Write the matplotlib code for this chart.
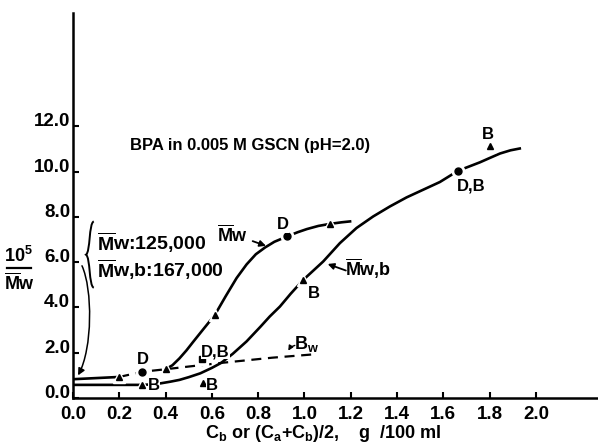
"""
Sedimentation data chart: 10^5/Mw vs concentration for BPA in GSCN
"""
import matplotlib
matplotlib.use('Agg')
import matplotlib.pyplot as plt
from matplotlib.path import Path
from matplotlib.patches import FancyArrowPatch, PathPatch

plt.rcParams['font.family'] = ['Liberation Sans', 'DejaVu Sans']
plt.rcParams['font.weight'] = 'bold'
plt.rcParams['axes.labelweight'] = 'bold'
plt.rcParams['mathtext.fontset'] = 'custom'
plt.rcParams['mathtext.rm'] = 'Liberation Sans:bold'
plt.rcParams['mathtext.bf'] = 'Liberation Sans:bold'
plt.rcParams['mathtext.it'] = 'Liberation Sans:bold'

# Mw curve (upper)
mw_x_start = [0.0, 0.1, 0.2]
mw_y_start = [0.83, 0.88, 0.93]
mw_x = [0.40, 0.43, 0.46, 0.49, 0.52, 0.56, 0.613, 0.66, 0.707, 0.75, 0.79, 0.83,
        0.87, 0.926, 0.97, 1.01, 1.06, 1.11, 1.16, 1.197]
mw_y = [1.27, 1.45, 1.75, 2.10, 2.49, 3.00, 3.67, 4.50, 5.30, 5.90, 6.35, 6.65,
        6.90, 7.14, 7.32, 7.46, 7.60, 7.69, 7.76, 7.80]

# Mw,b curve (lower)
mwb_x = [0.0, 0.15, 0.30, 0.34, 0.38, 0.42, 0.46, 0.50, 0.55, 0.60, 0.64, 0.69,
         0.75, 0.81, 0.85, 0.894, 0.94, 0.995, 1.081, 1.153, 1.225, 1.297, 1.369,
         1.441, 1.513, 1.585, 1.664, 1.71, 1.758, 1.80, 1.845, 1.89, 1.93]
mwb_y = [0.58, 0.58, 0.58, 0.60, 0.65, 0.72, 0.80, 0.92, 1.09, 1.33, 1.55, 1.95,
         2.50, 3.15, 3.60, 4.04, 4.60, 5.22, 6.03, 6.84, 7.51, 8.02, 8.46,
         8.86, 9.20, 9.54, 10.04, 10.22, 10.41, 10.60, 10.80, 10.94, 11.02]

# Bw dashed line
bw_x = [0.2, 0.3, 0.4, 0.5, 0.64, 0.86, 1.03]
bw_y = [0.93, 1.16, 1.27, 1.39, 1.55, 1.78, 1.92]

# data points
circle_x = [0.30, 0.926, 1.663]
circle_y = [1.16, 7.14, 10.02]
square_x = [0.556]
square_y = [1.71]
tri_x = [0.20, 0.40, 0.613, 1.11, 0.30, 0.563, 0.995, 1.80]
tri_y = [0.93, 1.27, 3.67, 7.69, 0.57, 0.68, 5.22, 11.12]

x_ticks = [0.0, 0.2, 0.4, 0.6, 0.8, 1.0, 1.2, 1.4, 1.6, 1.8, 2.0]
y_ticks = [0.0, 2.0, 4.0, 6.0, 8.0, 10.0, 12.0]

fig = plt.figure(figsize=(5.98, 4.46), dpi=100)
ax = fig.add_axes([0.122, 0.1076, 0.878, 0.863])

lw = 1.9
ax.plot(mw_x_start, mw_y_start, color='black', linewidth=lw, solid_capstyle='butt')
ax.plot(mw_x, mw_y, color='black', linewidth=lw)
ax.plot(mwb_x, mwb_y, color='black', linewidth=lw)
ax.plot(bw_x, bw_y, color='black', linewidth=1.6, dashes=(4.5, 3))

# white halo behind each marker, then the black marker
halo = dict(color='white', linestyle='none', zorder=4)
mk = dict(color='black', linestyle='none', zorder=5)
ax.plot(circle_x, circle_y, marker='o', markersize=9, **halo)
ax.plot(square_x, square_y, marker='s', markersize=8, **halo)
ax.plot(tri_x, tri_y, marker='^', markersize=9, **halo)
ax.plot(circle_x, circle_y, marker='o', markersize=5, **mk)
ax.plot(square_x, square_y, marker='s', markersize=4, **mk)
ax.plot(tri_x, tri_y, marker='^', markersize=4.5, **mk)

# point labels
lab = dict(fontsize=12, fontweight='bold', ha='center', va='center',
           bbox=dict(facecolor='white', edgecolor='none', pad=0.3), zorder=6)
ax.text(0.30, 1.68, 'D', **lab)
ax.text(0.35, 0.57, 'B', **lab)
ax.text(0.615, 2.05, 'D,B', **lab)
ax.text(0.60, 0.57, 'B', **lab)
ax.text(0.905, 7.65, 'D', **lab)
ax.text(1.04, 4.63, 'B', **lab)
ax.text(1.722, 9.35, 'D,B', **lab)
ax.text(1.794, 11.64, 'B', **lab)

# curve labels
ax.text(0.69, 7.17, r'$\overline{\mathbf{M}}$w', fontsize=13, ha='center', va='center')
ax.annotate('', xy=(0.845, 6.68), xytext=(0.765, 6.97),
            arrowprops=dict(arrowstyle='-|>', color='black', lw=1.3, mutation_scale=9))
ax.text(1.275, 5.72, r'$\overline{\mathbf{M}}$w,b', fontsize=13, ha='center', va='center')
ax.annotate('', xy=(1.089, 5.96), xytext=(1.19, 5.59),
            arrowprops=dict(arrowstyle='-|>', color='black', lw=1.3, mutation_scale=9))
ax.text(1.01, 2.38, r'B$_{\mathbf{w}}$', fontsize=13, ha='center', va='center')
ax.annotate('', xy=(0.925, 1.98), xytext=(0.97, 2.35),
            arrowprops=dict(arrowstyle='-|>', color='black', lw=1.0, mutation_scale=7,
                            connectionstyle='arc3,rad=0.3'))

# title
ax.text(0.246, 11.15, 'BPA in 0.005 M GSCN (pH=2.0)', fontsize=12, fontweight='bold',
        ha='left', va='center')

# thin curly bracket
brace = Path([(0.090, 7.80), (0.068, 7.72), (0.076, 6.45), (0.056, 6.33),
              (0.076, 6.21), (0.068, 4.95), (0.090, 4.87)],
             [Path.MOVETO, Path.CURVE4, Path.CURVE4, Path.CURVE4,
              Path.CURVE4, Path.CURVE4, Path.CURVE4])
ax.add_patch(PathPatch(brace, facecolor='none', edgecolor='black', linewidth=1.4))
ax.text(0.104, 6.86, r'$\overline{\mathbf{M}}$w:125,000', fontsize=14,
        ha='left', va='center')
ax.text(0.104, 5.66, r'$\overline{\mathbf{M}}$w,b:167,000', fontsize=14,
        ha='left', va='center')

# long curved arrow down to the intercept
arrow_path = Path([(0.039, 5.84), (0.085, 4.8), (0.085, 2.2), (0.022, 1.0)],
                  [Path.MOVETO, Path.CURVE4, Path.CURVE4, Path.CURVE4])
ax.add_patch(FancyArrowPatch(path=arrow_path, arrowstyle='-|>', color='black',
                             linewidth=1.1, mutation_scale=10))

# y label as stacked fraction
fig.text(18 / 598, 1 - 256 / 446, r'10$^{\mathbf{5}}$', fontsize=13, ha='center', va='center')
fig.add_artist(plt.Line2D([7 / 598, 31 / 598], [1 - 268 / 446, 1 - 268 / 446],
                          color='black', linewidth=1.6))
fig.text(20 / 598, 1 - 283 / 446, r'$\overline{\mathbf{M}}$w', fontsize=13,
         ha='center', va='center')

# x label
ax.set_xlabel(r'C$_{\mathbf{b}}$ or (C$_{\mathbf{a}}$+C$_{\mathbf{b}}$)/2,    g  /100 ml',
              fontsize=13, fontweight='bold')
ax.xaxis.set_label_coords(0.476, -0.066)

ax.set_xlim(0, 2.268)
ax.set_ylim(0, 17.0)
ax.set_xticks(x_ticks)
ax.set_xticklabels([f'{v:.1f}' for v in x_ticks])
ax.set_yticks(y_ticks)
ax.set_yticklabels([f'{v:.1f}' for v in y_ticks])
ax.tick_params(direction='in', length=4, width=1.5, labelsize=13.5)
ax.tick_params(axis='x', pad=6)
ax.tick_params(axis='y', pad=2)
for lbl in ax.get_xticklabels() + ax.get_yticklabels():
    lbl.set_fontweight('bold')
for lbl in ax.get_yticklabels():
    lbl.set_verticalalignment('baseline')

for side in ['top', 'right']:
    ax.spines[side].set_visible(False)
for side in ['left', 'bottom']:
    ax.spines[side].set_linewidth(1.8)

plt.savefig('out.png', dpi=100)
plt.close()
